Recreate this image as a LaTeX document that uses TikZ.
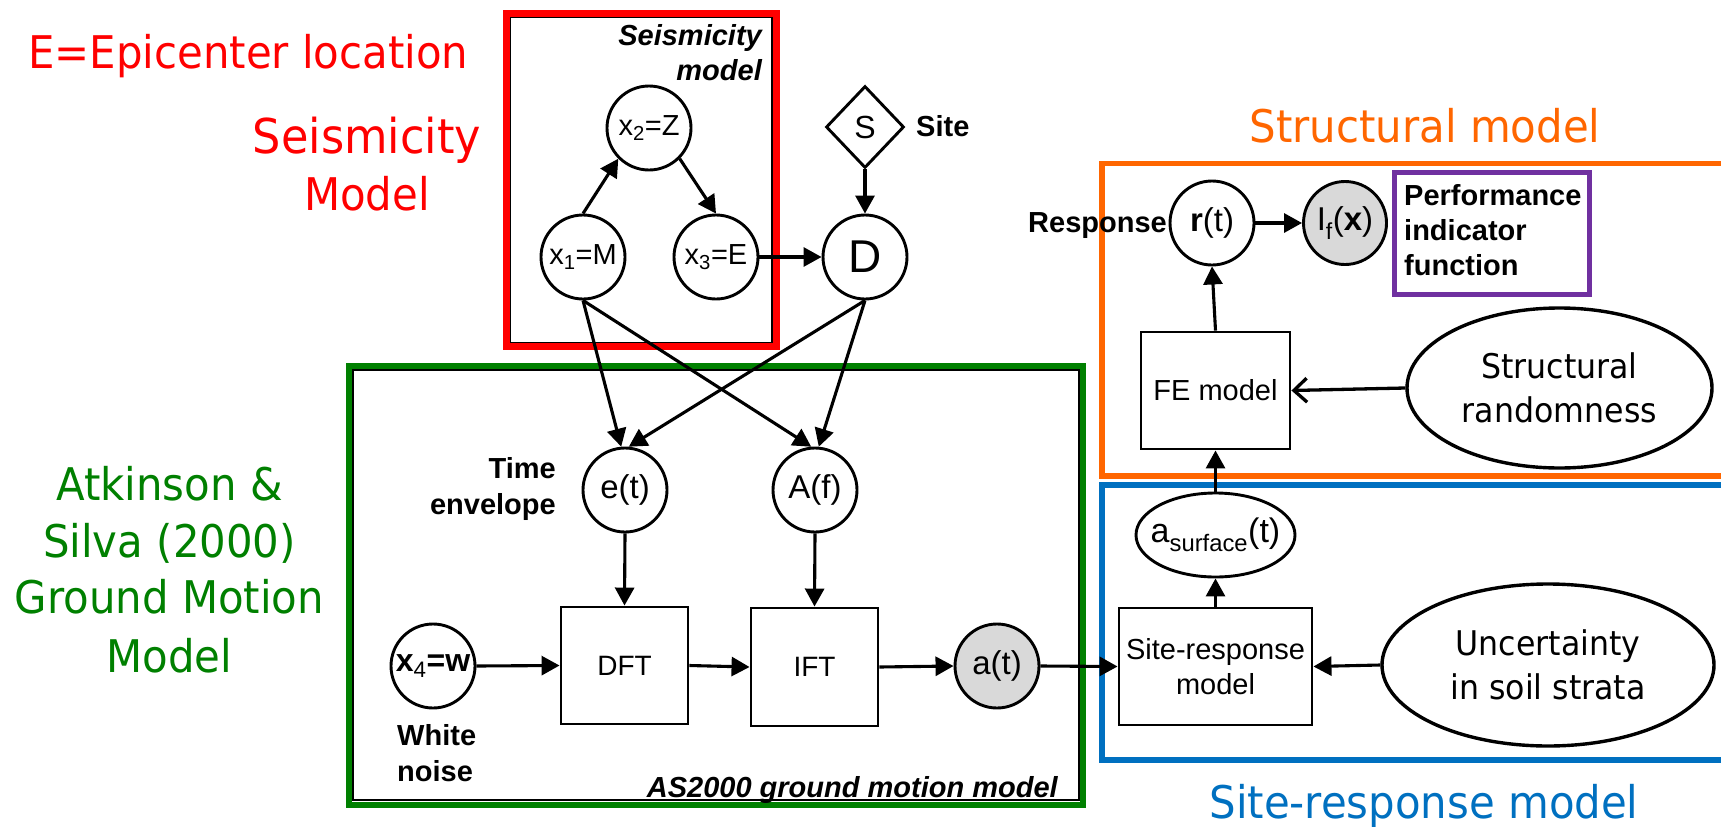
\documentclass[tikz,border=0pt]{standalone}
\usepackage{fontspec}
\setmainfont{Liberation Sans}
\newfontfamily\lblfont[FakeStretch=0.93]{DejaVu Sans}
\usetikzlibrary{shapes.geometric,arrows.meta}

\definecolor{sred}{RGB}{255,0,0}
\definecolor{sgreen}{RGB}{0,128,0}
\definecolor{sorange}{RGB}{255,102,0}
\definecolor{sblue}{RGB}{0,112,192}
\definecolor{spurple}{RGB}{112,48,160}
\definecolor{obsgray}{RGB}{217,217,217}

\newcommand\fsz[2]{\fontsize{#1}{#2}\selectfont}

\begin{document}
\begin{tikzpicture}[x=1pt,y=-1pt,
  rv/.style={circle, draw, line width=2.9pt, minimum size=84pt, inner sep=0pt, font=\fsz{29}{34}},
  obs/.style={rv, fill=obsgray},
  blk/.style={rectangle, draw, line width=2.9pt, inner sep=0pt, align=center, font=\fsz{29}{35}},
  oval/.style={ellipse, draw, line width=3.4pt, inner sep=0pt, align=center, font=\lblfont\fsz{34}{44}},
  edge/.style={line width=3.1pt, -{Triangle[length=18pt,width=19pt]}},
  openedge/.style={line width=3.3pt, -{Straight Barb[length=13pt,width=24pt]}},
  lbl/.style={inner sep=0pt, font=\bfseries\fsz{29}{35}},
  plate/.style={inner sep=0pt, font=\bfseries\itshape\fsz{29}{35}},
  title/.style={inner sep=0pt, font=\lblfont\fsz{45}{57}},
]
\path[use as bounding box] (0,0) rectangle (1721,827);
\clip (0,0) rectangle (1721,827);
\fill[white] (0,0) rectangle (1721,827);

% ---- plates and model frames ----
\draw[line width=2.2pt] (510,17) rectangle (772,343);
\draw[sred, line width=7pt] (506,13) rectangle (776,346);
\draw[line width=2.2pt] (353,370) rectangle (1079,800);
\draw[sgreen, line width=6pt] (348.5,365.5) rectangle (1083,804.5);
\draw[sorange, line width=5.5pt] (1102,163.5) rectangle (1745,476);
\draw[sblue, line width=5.5pt] (1102,485) rectangle (1745,760);
\draw[spurple, line width=5pt] (1394.5,172.5) rectangle (1589,294);

% ---- model titles ----
\node[title, sred, anchor=base west] (tepi) at (28,68) {E=Epicenter location};
\node[title, sred, anchor=base, font=\lblfont\fsz{48}{57}] (tseis1) at (367,153) {Seismicity};
\node[title, sred, anchor=base] (tseis2) at (367,210) {Model};
\node[title, sgreen, anchor=base] (tas1) at (169.5,500) {Atkinson \&};
\node[title, sgreen, anchor=base] (tas2) at (169.5,557) {Silva (2000)};
\node[title, sgreen, anchor=base] (tas3) at (169.5,613) {Ground Motion};
\node[title, sgreen, anchor=base] (tas4) at (169.5,672) {Model};
\node[title, sorange, anchor=base] (tstruct) at (1425,142) {Structural model};
\node[title, sblue, anchor=base] (tsite) at (1424,818) {Site-response model};

% ---- seismicity model ----
\node[plate, anchor=base east] (pseis1) at (762,45) {Seismicity};
\node[plate, anchor=base east] (pseis2) at (762,80) {model};
\node[rv] (x2) at (649,128) {x\textsubscript{2}=Z};
\node[rv] (x1) at (583,257) {x\textsubscript{1}=M};
\node[rv] (x3) at (716,257) {x\textsubscript{3}=E};
\node[rv, font=\fsz{46}{50}] (D) at (865,257) {D};
\node[diamond, draw, line width=2.9pt, aspect=1, minimum width=78pt, minimum height=82pt, inner sep=0pt, font=\fsz{32}{36}] (S) at (865,127) {S};
\node[lbl, anchor=base west] (lsite) at (916,136) {Site};

% ---- ground motion model ----
\node[rv, font=\fsz{33}{38}] (et) at (625,490) {e(t)};
\node[rv, font=\fsz{33}{38}] (Af) at (815,490) {A(f)};
\node[rv, font=\fsz{32}{36}] (x4) at (433,666) {\textbf{x}\textsubscript{4}\textbf{=w}};
\node[blk, minimum width=127pt, minimum height=117pt, font=\fsz{28}{34}] (DFT) at (624.5,665.5) {DFT};
\node[blk, minimum width=127pt, minimum height=118pt, font=\fsz{28}{34}] (IFT) at (814.5,667) {IFT};
\node[obs, font=\fsz{33}{38}] (at) at (997,666) {a(t)};
\node[lbl, anchor=base east] (ltime1) at (556,478) {Time};
\node[lbl, anchor=base east] (ltime2) at (556,514) {envelope};
\node[lbl, anchor=base west] (lwn1) at (397,745) {White};
\node[lbl, anchor=base west] (lwn2) at (397,781) {noise};
\node[plate, anchor=base east] (pas) at (1058,797) {AS2000 ground motion model};

% ---- site-response model ----
\node[blk, minimum width=193pt, minimum height=117pt] (SR) at (1215.5,666.5) {Site-response\\model};
\node[ellipse, draw, line width=2.9pt, minimum width=159pt, minimum height=84pt, inner xsep=-14pt, inner ysep=0pt, font=\fsz{34}{38}] (as) at (1215.5,535) {a\textsubscript{surface}(t)};
\node[oval, minimum width=332pt, minimum height=162pt] (unc) at (1548,665) {Uncertainty\\in soil strata};

% ---- structural model ----
\node[blk, minimum width=149pt, minimum height=117pt] (FE) at (1215.5,390.5) {FE model};
\node[oval, minimum width=305pt, minimum height=160pt] (srand) at (1559.5,388) {Structural\\randomness};
\node[rv, font=\fsz{33}{38}] (rt) at (1212,223) {\textbf{r}(t)};
\node[obs, font=\fsz{33}{38}, minimum size=83pt] (If) at (1345,223) {I\textsubscript{f}(\textbf{x})};
\node[lbl, anchor=base east] (lresp) at (1167,232) {Response};
\node[lbl, anchor=base west] (lperf1) at (1404,205) {Performance};
\node[lbl, anchor=base west] (lperf2) at (1404,240) {indicator};
\node[lbl, anchor=base west] (lperf3) at (1404,275) {function};

% ---- connectors ----
\draw[edge] (x1.north) -- (x2.225);
\draw[edge] (x2.-45) -- (x3.north);
\draw[edge] (x3.east) -- (D.west);
\draw[edge] (S.south) -- (D.north);
\draw[edge] (x1.south) -- (et.95);
\draw[edge] (x1.south) -- (Af.95);
\draw[edge] (D.south) -- (et.85);
\draw[edge] (D.south) -- (Af.85);
\draw[edge] (et.south) -- (DFT.north);
\draw[edge] (Af.south) -- (IFT.north);
\draw[edge] (x4.east) -- (DFT.west);
\draw[edge] (DFT.east) -- (IFT.west);
\draw[edge] (IFT.east) -- (at.west);
\draw[edge] (at.east) -- (SR.west);
\draw[edge] (SR.north) -- (as.south);
\draw[edge] (as.north) -- (FE.south);
\draw[edge] (FE.north) -- (rt.south);
\draw[edge] (rt.east) -- (If.west);
\draw[edge] (unc.west) -- (SR.east);
\draw[openedge] (srand.west) -- (FE.east);
\end{tikzpicture}
\end{document}
